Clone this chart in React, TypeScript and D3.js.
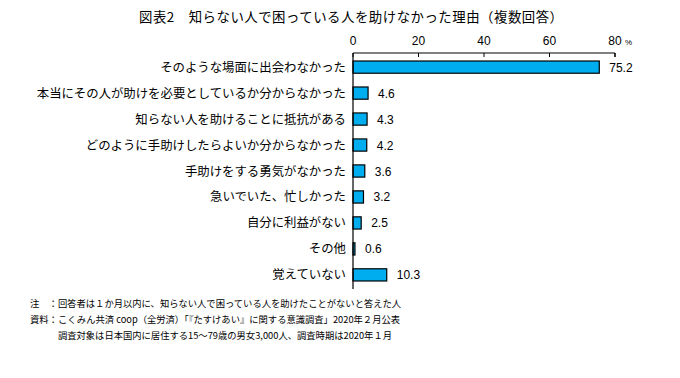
import React from "react";
import * as d3 from "d3";

const categories = [
  "そのような場面に出会わなかった",
  "本当にその人が助けを必要としているか分からなかった",
  "知らない人を助けることに抵抗がある",
  "どのように手助けしたらよいか分からなかった",
  "手助けをする勇気がなかった",
  "急いでいた、忙しかった",
  "自分に利益がない",
  "その他",
  "覚えていない",
];
const values = [75.2, 4.6, 4.3, 4.2, 3.6, 3.2, 2.5, 0.6, 10.3];
const ticks = [0, 20, 40, 60, 80];
const title = "図表2　知らない人で困っている人を助けなかった理由（複数回答）";
const notes = [
  "注　：回答者は１か月以内に、知らない人で困っている人を助けたことがないと答えた人",
  "資料：こくみん共済 coop（全労済）「『たすけあい』に関する意識調査」2020年２月公表",
  "　　　調査対象は日本国内に居住する15～79歳の男女3,000人、調査時期は2020年１月",
];

const FONT = "'Noto Sans CJK JP', 'Noto Sans', sans-serif";
const NUMFONT = "Arial, 'Liberation Sans', sans-serif";

export default function App() {
  const W = 680, H = 378;
  const x = d3.scaleLinear().domain([0, 80]).range([353, 615]);
  const y = d3.scaleBand<string>().domain(categories).range([54, 288]).paddingInner(0.53).paddingOuter(0.27);
  const axisY = 53;
  return (
    <svg width={W} height={H} style={{ position: "absolute", left: 0, top: 0, background: "#fff" }} fontFamily={FONT}>
      <text x={139} y={22} fontSize={13.4} fill="#000" textLength={424} lengthAdjust="spacing">{title}</text>
      {ticks.map((t) => (
        <g key={t}>
          <line x1={x(t)} x2={x(t)} y1={axisY} y2={axisY + 4} stroke="#000" strokeWidth={1} />
          <text x={x(t)} y={axisY - 8} textAnchor="middle" fontSize={12} fontFamily={NUMFONT}>{t}</text>
        </g>
      ))}
      <text x={x(80) + 10} y={axisY - 8} fontSize={8} fontFamily={NUMFONT}>%</text>
      <line x1={x(0)} x2={x(80)} y1={axisY} y2={axisY} stroke="#000" strokeWidth={1.2} />
      <line x1={x(80)} x2={x(80)} y1={axisY} y2={axisY + 4} stroke="#000" strokeWidth={1.2} />
      {categories.map((c, i) => {
        const yy = y(c)!;
        const bh = y.bandwidth();
        return (
          <g key={c}>
            <rect x={x(0)} y={yy} width={x(values[i]) - x(0)} height={bh} fill="#00aeef" stroke="#000" strokeWidth={1.2} />
            <text x={x(values[i]) + 10} y={yy + bh / 2 + 4.5} fontSize={12} fontFamily={NUMFONT}>{values[i].toFixed(1)}</text>
            <text x={346} y={yy + bh / 2 + 4.5} textAnchor="end" fontSize={12.4}>{c}</text>
          </g>
        );
      })}
      <line x1={x(0)} x2={x(0)} y1={axisY} y2={289} stroke="#000" strokeWidth={1.2} />
      {notes.map((n, i) => (
        <text key={i} x={30} y={307 + i * 16} fontSize={9.3} fill="#000" style={{ whiteSpace: "pre" }}>{n}</text>
      ))}
    </svg>
  );
}
